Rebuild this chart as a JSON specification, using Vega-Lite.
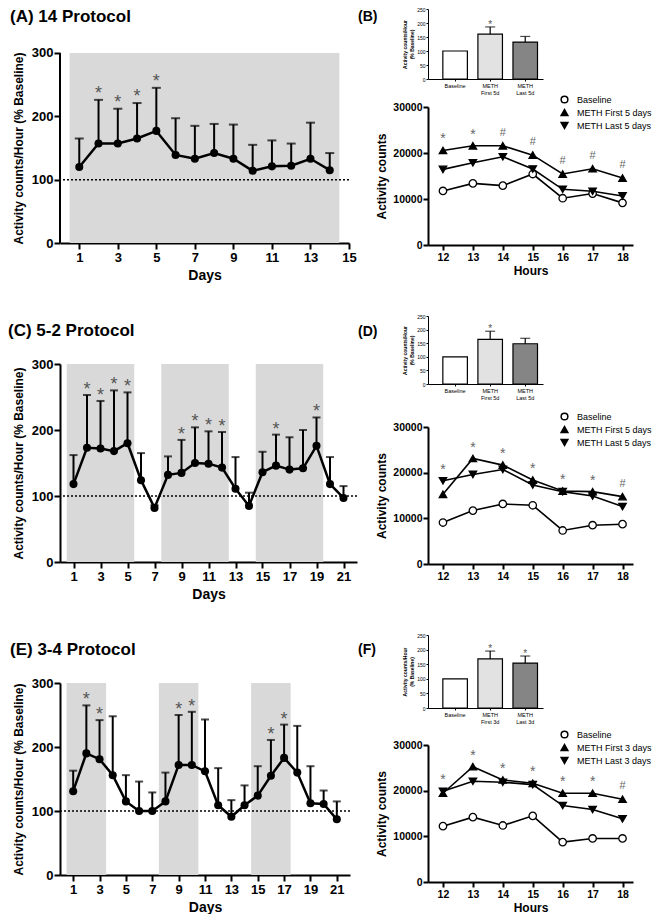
{
  "background": "white",
  "padding": {"left": 8, "top": 7, "right": 0, "bottom": 0},
  "config": {
    "font": "Liberation Sans",
    "view": {"stroke": null},
    "axis": {"domainColor": "black", "domainWidth": 2, "tickColor": "black", "tickWidth": 2, "tickSize": 6, "labelColor": "black", "titleColor": "black", "labelFontWeight": "bold", "titleFontWeight": "bold", "grid": false, "labelFont": "Liberation Sans", "titleFont": "Liberation Sans", "labelFlush": false, "labelOverlap": false},
    "title": {"color": "black", "font": "Liberation Sans", "fontWeight": "bold", "anchor": "start", "frame": "group", "baseline": "alphabetic"},
    "legend": {"labelFont": "Liberation Sans", "labelColor": "black"}
  },
  "datasets": {
    "A": [
      {"day": 1, "mean": 120, "upper": 165, "sig": 0},
      {"day": 2, "mean": 157, "upper": 226, "sig": 1},
      {"day": 3, "mean": 157, "upper": 212, "sig": 1},
      {"day": 4, "mean": 165, "upper": 221, "sig": 1},
      {"day": 5, "mean": 177, "upper": 245, "sig": 1},
      {"day": 6, "mean": 139, "upper": 197, "sig": 0},
      {"day": 7, "mean": 133, "upper": 185, "sig": 0},
      {"day": 8, "mean": 142, "upper": 188, "sig": 0},
      {"day": 9, "mean": 133, "upper": 187, "sig": 0},
      {"day": 10, "mean": 114, "upper": 155, "sig": 0},
      {"day": 11, "mean": 121, "upper": 162, "sig": 0},
      {"day": 12, "mean": 122, "upper": 157, "sig": 0},
      {"day": 13, "mean": 133, "upper": 190, "sig": 0},
      {"day": 14, "mean": 115, "upper": 142, "sig": 0}
    ],
    "C": [
      {"day": 1, "mean": 118, "upper": 162, "sig": 0},
      {"day": 2, "mean": 173, "upper": 253, "sig": 1},
      {"day": 3, "mean": 172, "upper": 244, "sig": 1},
      {"day": 4, "mean": 168, "upper": 260, "sig": 1},
      {"day": 5, "mean": 180, "upper": 257, "sig": 1},
      {"day": 6, "mean": 124, "upper": 165, "sig": 0},
      {"day": 7, "mean": 82, "upper": 86, "sig": 0},
      {"day": 8, "mean": 132, "upper": 160, "sig": 0},
      {"day": 9, "mean": 135, "upper": 185, "sig": 1},
      {"day": 10, "mean": 150, "upper": 204, "sig": 1},
      {"day": 11, "mean": 149, "upper": 198, "sig": 1},
      {"day": 12, "mean": 143, "upper": 197, "sig": 1},
      {"day": 13, "mean": 111, "upper": 159, "sig": 0},
      {"day": 14, "mean": 85, "upper": 105, "sig": 0},
      {"day": 15, "mean": 136, "upper": 167, "sig": 0},
      {"day": 16, "mean": 146, "upper": 193, "sig": 1},
      {"day": 17, "mean": 140, "upper": 189, "sig": 0},
      {"day": 18, "mean": 142, "upper": 200, "sig": 0},
      {"day": 19, "mean": 176, "upper": 219, "sig": 1},
      {"day": 20, "mean": 118, "upper": 159, "sig": 0},
      {"day": 21, "mean": 97, "upper": 115, "sig": 0}
    ],
    "E": [
      {"day": 1, "mean": 131, "upper": 163, "sig": 0},
      {"day": 2, "mean": 190, "upper": 265, "sig": 1},
      {"day": 3, "mean": 181, "upper": 242, "sig": 1},
      {"day": 4, "mean": 156, "upper": 248, "sig": 0},
      {"day": 5, "mean": 115, "upper": 156, "sig": 0},
      {"day": 6, "mean": 100, "upper": 146, "sig": 0},
      {"day": 7, "mean": 100, "upper": 129, "sig": 0},
      {"day": 8, "mean": 115, "upper": 160, "sig": 0},
      {"day": 9, "mean": 172, "upper": 250, "sig": 1},
      {"day": 10, "mean": 172, "upper": 255, "sig": 1},
      {"day": 11, "mean": 162, "upper": 243, "sig": 0},
      {"day": 12, "mean": 109, "upper": 167, "sig": 0},
      {"day": 13, "mean": 91, "upper": 117, "sig": 0},
      {"day": 14, "mean": 109, "upper": 140, "sig": 0},
      {"day": 15, "mean": 124, "upper": 170, "sig": 0},
      {"day": 16, "mean": 155, "upper": 211, "sig": 1},
      {"day": 17, "mean": 183, "upper": 235, "sig": 1},
      {"day": 18, "mean": 160, "upper": 233, "sig": 0},
      {"day": 19, "mean": 112, "upper": 170, "sig": 0},
      {"day": 20, "mean": 111, "upper": 132, "sig": 0},
      {"day": 21, "mean": 87, "upper": 115, "sig": 0}
    ],
    "shadeA": [{"s": 0.5, "e": 14.5}],
    "shadeC": [{"s": 0.5, "e": 5.5}, {"s": 7.5, "e": 12.5}, {"s": 14.5, "e": 19.5}],
    "shadeE": [{"s": 0.5, "e": 3.5}, {"s": 7.5, "e": 10.5}, {"s": 14.5, "e": 17.5}],
    "barB": [
      {"cat": "Baseline", "value": 100, "upper": null, "sig": 0},
      {"cat": "METH|First 5d", "value": 160, "upper": 186, "sig": 1},
      {"cat": "METH|Last 5d", "value": 132, "upper": 152, "sig": 0}
    ],
    "barD": [
      {"cat": "Baseline", "value": 100, "upper": null, "sig": 0},
      {"cat": "METH|First 5d", "value": 164, "upper": 194, "sig": 1},
      {"cat": "METH|Last 5d", "value": 148, "upper": 168, "sig": 0}
    ],
    "barF": [
      {"cat": "Baseline", "value": 100, "upper": null, "sig": 0},
      {"cat": "METH|First 3d", "value": 168, "upper": 195, "sig": 1},
      {"cat": "METH|Last 3d", "value": 154, "upper": 178, "sig": 1}
    ],
    "lineB": [
      {"hour": 12, "series": "Baseline", "value": 11750},
      {"hour": 13, "series": "Baseline", "value": 13400},
      {"hour": 14, "series": "Baseline", "value": 12900},
      {"hour": 15, "series": "Baseline", "value": 15430},
      {"hour": 16, "series": "Baseline", "value": 10170},
      {"hour": 17, "series": "Baseline", "value": 11180},
      {"hour": 18, "series": "Baseline", "value": 9160},
      {"hour": 12, "series": "METH First 5 days", "value": 20550},
      {"hour": 13, "series": "METH First 5 days", "value": 21560},
      {"hour": 14, "series": "METH First 5 days", "value": 21560},
      {"hour": 15, "series": "METH First 5 days", "value": 19540},
      {"hour": 16, "series": "METH First 5 days", "value": 15430},
      {"hour": 17, "series": "METH First 5 days", "value": 16580},
      {"hour": 18, "series": "METH First 5 days", "value": 14560},
      {"hour": 12, "series": "METH Last 5 days", "value": 16440},
      {"hour": 13, "series": "METH Last 5 days", "value": 17880},
      {"hour": 14, "series": "METH Last 5 days", "value": 19180},
      {"hour": 15, "series": "METH Last 5 days", "value": 16510},
      {"hour": 16, "series": "METH Last 5 days", "value": 12110},
      {"hour": 17, "series": "METH Last 5 days", "value": 11680},
      {"hour": 18, "series": "METH Last 5 days", "value": 10670}
    ],
    "lineD": [
      {"hour": 12, "series": "Baseline", "value": 9080},
      {"hour": 13, "series": "Baseline", "value": 11700},
      {"hour": 14, "series": "Baseline", "value": 13150},
      {"hour": 15, "series": "Baseline", "value": 12860},
      {"hour": 16, "series": "Baseline", "value": 7340},
      {"hour": 17, "series": "Baseline", "value": 8500},
      {"hour": 18, "series": "Baseline", "value": 8720},
      {"hour": 12, "series": "METH First 5 days", "value": 15250},
      {"hour": 13, "series": "METH First 5 days", "value": 23100},
      {"hour": 14, "series": "METH First 5 days", "value": 21650},
      {"hour": 15, "series": "METH First 5 days", "value": 18380},
      {"hour": 16, "series": "METH First 5 days", "value": 15980},
      {"hour": 17, "series": "METH First 5 days", "value": 15840},
      {"hour": 18, "series": "METH First 5 days", "value": 14750},
      {"hour": 12, "series": "METH Last 5 days", "value": 18230},
      {"hour": 13, "series": "METH Last 5 days", "value": 19610},
      {"hour": 14, "series": "METH Last 5 days", "value": 20700},
      {"hour": 15, "series": "METH Last 5 days", "value": 17290},
      {"hour": 16, "series": "METH Last 5 days", "value": 15840},
      {"hour": 17, "series": "METH Last 5 days", "value": 14890},
      {"hour": 18, "series": "METH Last 5 days", "value": 12570}
    ],
    "lineF": [
      {"hour": 12, "series": "Baseline", "value": 12230},
      {"hour": 13, "series": "Baseline", "value": 14200},
      {"hour": 14, "series": "Baseline", "value": 12380},
      {"hour": 15, "series": "Baseline", "value": 14490},
      {"hour": 16, "series": "Baseline", "value": 8740},
      {"hour": 17, "series": "Baseline", "value": 9540},
      {"hour": 18, "series": "Baseline", "value": 9540},
      {"hour": 12, "series": "METH First 3 days", "value": 19440},
      {"hour": 13, "series": "METH First 3 days", "value": 25260},
      {"hour": 14, "series": "METH First 3 days", "value": 22350},
      {"hour": 15, "series": "METH First 3 days", "value": 21620},
      {"hour": 16, "series": "METH First 3 days", "value": 19440},
      {"hour": 17, "series": "METH First 3 days", "value": 19440},
      {"hour": 18, "series": "METH First 3 days", "value": 18130},
      {"hour": 12, "series": "METH Last 3 days", "value": 19870},
      {"hour": 13, "series": "METH Last 3 days", "value": 22060},
      {"hour": 14, "series": "METH Last 3 days", "value": 21840},
      {"hour": 15, "series": "METH Last 3 days", "value": 21330},
      {"hour": 16, "series": "METH Last 3 days", "value": 16740},
      {"hour": 17, "series": "METH Last 3 days", "value": 15870},
      {"hour": 18, "series": "METH Last 3 days", "value": 13830}
    ],
    "annB": [
      {"hour": 12, "sym": "*"}, {"hour": 13, "sym": "*"}, {"hour": 14, "sym": "#"}, {"hour": 15, "sym": "#"},
      {"hour": 16, "sym": "#"}, {"hour": 17, "sym": "#"}, {"hour": 18, "sym": "#"}
    ],
    "annD": [
      {"hour": 12, "sym": "*"}, {"hour": 13, "sym": "*"}, {"hour": 14, "sym": "*"}, {"hour": 15, "sym": "*"},
      {"hour": 16, "sym": "*"}, {"hour": 17, "sym": "*"}, {"hour": 18, "sym": "#"}
    ],
    "annF": [
      {"hour": 12, "sym": "*"}, {"hour": 13, "sym": "*"}, {"hour": 14, "sym": "*"}, {"hour": 15, "sym": "*"},
      {"hour": 16, "sym": "*"}, {"hour": 17, "sym": "*"}, {"hour": 18, "sym": "#"}
    ]
  },
  "spacing": 0,
  "resolve": {"scale": {"fill": "independent", "shape": "independent"}, "legend": {"fill": "independent", "shape": "independent"}},
  "hconcat": [
    {
      "spacing": 40,
      "resolve": {"scale": {"fill": "independent", "shape": "independent"}, "legend": {"fill": "independent", "shape": "independent"}},
      "vconcat": [
        {
          "width": 289, "height": 234,
          "title": {"text": "(A) 14 Protocol", "fontSize": 17, "offset": 0, "dx": -50, "dy": 17},
          "layer": [
            {"data": {"name": "shadeA"}, "mark": {"type": "rect", "color": "#d9d9d9"},
             "encoding": {
               "x": {"field": "s", "type": "quantitative", "scale": {"domain": [0, 15], "nice": false, "zero": false}, "axis": {"title": "Days", "values": [1, 3, 5, 7, 9, 11, 13, 15], "tickCount": 50, "format": "d", "labelFontSize": 13, "titleFontSize": 14, "labelPadding": 2, "titlePadding": 4}},
               "x2": {"field": "e"},
               "y": {"datum": 0, "type": "quantitative", "scale": {"domain": [0, 369.47], "nice": false}, "axis": {"title": "Activity counts/Hour (% Baseline)", "domain": false, "titleY": 139, "values": [0, 100, 200, 300], "tickCount": 50, "format": "d", "labelFontSize": 13, "titleFontSize": 12, "labelPadding": 1, "titlePadding": 6}},
               "y2": {"datum": 300}}},
            {"data": {"values": [{}]}, "mark": {"type": "rule", "color": "black", "strokeWidth": 2}, "encoding": {"x": {"datum": 0, "type": "quantitative"}, "y": {"datum": 0, "type": "quantitative"}, "y2": {"datum": 300}}},
            {"data": {"values": [{}]}, "mark": {"type": "rule", "color": "black", "strokeWidth": 1.5, "strokeDash": [2, 2]}, "encoding": {"y": {"datum": 100, "type": "quantitative"}}},
            {"data": {"name": "A"}, "mark": {"type": "rule", "color": "black", "strokeWidth": 2}, "encoding": {"x": {"field": "day", "type": "quantitative"}, "y": {"field": "mean", "type": "quantitative"}, "y2": {"field": "upper"}}},
            {"data": {"name": "A"}, "mark": {"type": "tick", "orient": "horizontal", "size": 9, "thickness": 2, "color": "black"}, "encoding": {"x": {"field": "day", "type": "quantitative"}, "y": {"field": "upper", "type": "quantitative"}}},
            {"data": {"name": "A"}, "mark": {"type": "line", "color": "black", "strokeWidth": 2.5}, "encoding": {"x": {"field": "day", "type": "quantitative"}, "y": {"field": "mean", "type": "quantitative"}}},
            {"data": {"name": "A"}, "mark": {"type": "point", "filled": true, "color": "black", "size": 65, "opacity": 1}, "encoding": {"x": {"field": "day", "type": "quantitative"}, "y": {"field": "mean", "type": "quantitative"}}},
            {"data": {"name": "A"}, "transform": [{"filter": "datum.sig == 1"}], "mark": {"type": "text", "text": "*", "fontSize": 18, "color": "#555", "baseline": "alphabetic", "dy": -1}, "encoding": {"x": {"field": "day", "type": "quantitative"}, "y": {"field": "upper", "type": "quantitative"}}}
          ]
        },
        {
          "width": 297, "height": 198,
          "title": {"text": "(C) 5-2 Protocol", "fontSize": 17, "offset": 18, "dx": -52},
          "layer": [
            {"data": {"name": "shadeC"}, "mark": {"type": "rect", "color": "#d9d9d9"},
             "encoding": {
               "x": {"field": "s", "type": "quantitative", "scale": {"domain": [0, 22], "nice": false, "zero": false}, "axis": {"title": "Days", "values": [1, 3, 5, 7, 9, 11, 13, 15, 17, 19, 21], "tickCount": 50, "format": "d", "labelFontSize": 13, "titleFontSize": 14, "labelPadding": 2, "titlePadding": 4}},
               "x2": {"field": "e"},
               "y": {"datum": 0, "type": "quantitative", "scale": {"domain": [0, 300], "nice": false}, "axis": {"title": "Activity counts/Hour (% Baseline)", "values": [0, 100, 200, 300], "tickCount": 50, "format": "d", "labelFontSize": 13, "titleFontSize": 12, "labelPadding": 1, "titlePadding": 6}},
               "y2": {"datum": 300}}},
            {"data": {"values": [{}]}, "mark": {"type": "rule", "color": "black", "strokeWidth": 1.5, "strokeDash": [2, 2]}, "encoding": {"y": {"datum": 100, "type": "quantitative"}}},
            {"data": {"name": "C"}, "mark": {"type": "rule", "color": "black", "strokeWidth": 2}, "encoding": {"x": {"field": "day", "type": "quantitative"}, "y": {"field": "mean", "type": "quantitative"}, "y2": {"field": "upper"}}},
            {"data": {"name": "C"}, "mark": {"type": "tick", "orient": "horizontal", "size": 8, "thickness": 2, "color": "black"}, "encoding": {"x": {"field": "day", "type": "quantitative"}, "y": {"field": "upper", "type": "quantitative"}}},
            {"data": {"name": "C"}, "mark": {"type": "line", "color": "black", "strokeWidth": 2.5}, "encoding": {"x": {"field": "day", "type": "quantitative"}, "y": {"field": "mean", "type": "quantitative"}}},
            {"data": {"name": "C"}, "mark": {"type": "point", "filled": true, "color": "black", "size": 65, "opacity": 1}, "encoding": {"x": {"field": "day", "type": "quantitative"}, "y": {"field": "mean", "type": "quantitative"}}},
            {"data": {"name": "C"}, "transform": [{"filter": "datum.sig == 1"}], "mark": {"type": "text", "text": "*", "fontSize": 18, "color": "#555", "baseline": "alphabetic", "dy": 0}, "encoding": {"x": {"field": "day", "type": "quantitative"}, "y": {"field": "upper", "type": "quantitative"}}}
          ]
        },
        {
          "width": 290, "height": 192,
          "title": {"text": "(E) 3-4 Protocol", "fontSize": 17, "offset": 18, "dx": -50},
          "layer": [
            {"data": {"name": "shadeE"}, "mark": {"type": "rect", "color": "#d9d9d9"},
             "encoding": {
               "x": {"field": "s", "type": "quantitative", "scale": {"domain": [0, 22], "nice": false, "zero": false}, "axis": {"title": "Days", "values": [1, 3, 5, 7, 9, 11, 13, 15, 17, 19, 21], "tickCount": 50, "format": "d", "labelFontSize": 13, "titleFontSize": 14, "labelPadding": 2, "titlePadding": 4}},
               "x2": {"field": "e"},
               "y": {"datum": 0, "type": "quantitative", "scale": {"domain": [0, 300], "nice": false}, "axis": {"title": "Activity counts/Hour (% Baseline)", "values": [0, 100, 200, 300], "tickCount": 50, "format": "d", "labelFontSize": 13, "titleFontSize": 12, "labelPadding": 1, "titlePadding": 6}},
               "y2": {"datum": 300}}},
            {"data": {"values": [{}]}, "mark": {"type": "rule", "color": "black", "strokeWidth": 1.5, "strokeDash": [2, 2]}, "encoding": {"y": {"datum": 100, "type": "quantitative"}}},
            {"data": {"name": "E"}, "mark": {"type": "rule", "color": "black", "strokeWidth": 2}, "encoding": {"x": {"field": "day", "type": "quantitative"}, "y": {"field": "mean", "type": "quantitative"}, "y2": {"field": "upper"}}},
            {"data": {"name": "E"}, "mark": {"type": "tick", "orient": "horizontal", "size": 8, "thickness": 2, "color": "black"}, "encoding": {"x": {"field": "day", "type": "quantitative"}, "y": {"field": "upper", "type": "quantitative"}}},
            {"data": {"name": "E"}, "mark": {"type": "line", "color": "black", "strokeWidth": 2.5}, "encoding": {"x": {"field": "day", "type": "quantitative"}, "y": {"field": "mean", "type": "quantitative"}}},
            {"data": {"name": "E"}, "mark": {"type": "point", "filled": true, "color": "black", "size": 65, "opacity": 1}, "encoding": {"x": {"field": "day", "type": "quantitative"}, "y": {"field": "mean", "type": "quantitative"}}},
            {"data": {"name": "E"}, "transform": [{"filter": "datum.sig == 1"}], "mark": {"type": "text", "text": "*", "fontSize": 18, "color": "#555", "baseline": "alphabetic", "dy": 0}, "encoding": {"x": {"field": "day", "type": "quantitative"}, "y": {"field": "upper", "type": "quantitative"}}}
          ]
        }
      ]
    },
    {
      "spacing": 37,
      "resolve": {"scale": {"fill": "independent", "shape": "independent"}, "legend": {"fill": "independent", "shape": "independent"}},
      "vconcat": [
        {
          "spacing": 28, "bounds": "flush",
          "resolve": {"scale": {"fill": "independent", "shape": "independent"}, "legend": {"fill": "independent", "shape": "independent"}},
          "vconcat": [
            {
              "width": 115, "height": 70,
              "title": {"text": "(B)", "fontSize": 14, "offset": 0, "dx": -70, "dy": 17},
              "data": {"name": "barB"},
              "layer": [
                {"mark": {"type": "bar", "stroke": "black", "strokeWidth": 1.2},
                 "encoding": {
                   "x": {"field": "cat", "type": "nominal", "sort": null, "scale": {"paddingInner": 0.3, "paddingOuter": 0.29, "align": 0.73}, "axis": {"title": null, "labelExpr": "split(datum.value, '|')", "labelFontSize": 5.5, "labelFontWeight": "normal", "labelAngle": 0, "domainWidth": 1, "tickWidth": 1, "tickSize": 2, "labelPadding": 2}},
                   "y": {"field": "value", "type": "quantitative", "scale": {"domain": [0, 250], "nice": false}, "axis": {"title": ["Activity counts/Hour", "(% Baseline)"], "titleFontSize": 5, "labelFontSize": 5, "labelFontWeight": "normal", "values": [0, 50, 100, 150, 200, 250], "tickCount": 50, "format": "d", "domainWidth": 1, "tickWidth": 1, "tickSize": 2, "labelPadding": 1, "titlePadding": 2}},
                   "fill": {"field": "cat", "type": "nominal", "sort": null, "scale": {"range": ["white", "#e2e2e2", "#858585"]}, "legend": null}}},
                {"transform": [{"filter": "datum.upper != null"}], "mark": {"type": "rule", "strokeWidth": 1.2, "color": "black"}, "encoding": {"x": {"field": "cat", "type": "nominal", "sort": null}, "y": {"field": "value", "type": "quantitative"}, "y2": {"field": "upper"}}},
                {"transform": [{"filter": "datum.upper != null"}], "mark": {"type": "tick", "orient": "horizontal", "size": 10, "thickness": 1.2, "color": "black"}, "encoding": {"x": {"field": "cat", "type": "nominal", "sort": null}, "y": {"field": "upper", "type": "quantitative"}}},
                {"transform": [{"filter": "datum.sig == 1"}], "mark": {"type": "text", "text": "*", "fontSize": 10, "color": "#555", "baseline": "alphabetic", "dy": 1}, "encoding": {"x": {"field": "cat", "type": "nominal", "sort": null}, "y": {"field": "upper", "type": "quantitative"}}}
              ]
            },
            {
              "width": 205, "height": 138,
              "layer": [
                {"data": {"name": "lineB"}, "mark": {"type": "line", "color": "black", "strokeWidth": 1.6},
                 "encoding": {
                   "x": {"field": "hour", "type": "quantitative", "scale": {"domain": [11.5, 18.35], "nice": false, "zero": false}, "axis": {"title": "Hours", "values": [12, 13, 14, 15, 16, 17, 18], "tickCount": 50, "format": "d", "labelFontSize": 10.5, "titleFontSize": 12, "tickSize": 5, "labelPadding": 2, "titlePadding": 3}},
                   "y": {"field": "value", "type": "quantitative", "scale": {"domain": [0, 30000], "nice": false}, "axis": {"title": "Activity counts", "values": [0, 10000, 20000, 30000], "tickCount": 50, "format": "d", "labelFontSize": 10.5, "titleFontSize": 12, "tickSize": 5, "labelPadding": 1, "titlePadding": 4}},
                   "detail": {"field": "series", "type": "nominal"}}},
                {"data": {"name": "lineB"}, "mark": {"type": "point", "filled": true, "size": 55, "stroke": "black", "strokeWidth": 1.3, "opacity": 1},
                 "encoding": {
                   "x": {"field": "hour", "type": "quantitative"},
                   "y": {"field": "value", "type": "quantitative"},
                   "shape": {"field": "series", "type": "nominal", "scale": {"domain": ["Baseline", "METH First 5 days", "METH Last 5 days"], "range": ["circle", "triangle-up", "triangle-down"]}, "legend": {"orient": "none", "legendX": 132, "legendY": -12, "title": null, "labelFontSize": 9, "labelFontWeight": "normal", "symbolSize": 45, "rowPadding": 0, "padding": 0, "labelOffset": 8, "encode": {"symbols": {"update": {"stroke": {"value": "black"}, "strokeWidth": {"value": 1.3}}}}}},
                   "fill": {"field": "series", "type": "nominal", "scale": {"domain": ["Baseline", "METH First 5 days", "METH Last 5 days"], "range": ["white", "black", "black"]}, "legend": {"orient": "none", "legendX": 132, "legendY": -12, "title": null, "labelFontSize": 9, "labelFontWeight": "normal", "symbolSize": 45, "rowPadding": 0, "padding": 0, "labelOffset": 8, "encode": {"symbols": {"update": {"stroke": {"value": "black"}, "strokeWidth": {"value": 1.3}}}}}}}},
                {"data": {"name": "lineB"}, "transform": [{"aggregate": [{"op": "max", "field": "value", "as": "top"}], "groupby": ["hour"]}, {"lookup": "hour", "from": {"data": {"name": "annB"}, "key": "hour", "fields": ["sym"]}}, {"filter": "datum.sym == '*'"}],
                 "mark": {"type": "text", "text": "*", "fontSize": 14, "color": "#666", "baseline": "middle", "dy": -11},
                 "encoding": {"x": {"field": "hour", "type": "quantitative"}, "y": {"field": "top", "type": "quantitative"}}},
                {"data": {"name": "lineB"}, "transform": [{"aggregate": [{"op": "max", "field": "value", "as": "top"}], "groupby": ["hour"]}, {"lookup": "hour", "from": {"data": {"name": "annB"}, "key": "hour", "fields": ["sym"]}}, {"filter": "datum.sym == '#'"}],
                 "mark": {"type": "text", "text": "#", "fontSize": 11, "color": "#666", "baseline": "middle", "dy": -13},
                 "encoding": {"x": {"field": "hour", "type": "quantitative"}, "y": {"field": "top", "type": "quantitative"}}}
              ]
            }
          ]
        },
        {
          "spacing": 43, "bounds": "flush",
          "resolve": {"scale": {"fill": "independent", "shape": "independent"}, "legend": {"fill": "independent", "shape": "independent"}},
          "vconcat": [
            {
              "width": 115, "height": 68,
              "title": {"text": "(D)", "fontSize": 14, "offset": 0, "dx": -70, "dy": 25},
              "data": {"name": "barD"},
              "layer": [
                {"mark": {"type": "bar", "stroke": "black", "strokeWidth": 1.2},
                 "encoding": {
                   "x": {"field": "cat", "type": "nominal", "sort": null, "scale": {"paddingInner": 0.3, "paddingOuter": 0.29, "align": 0.73}, "axis": {"title": null, "labelExpr": "split(datum.value, '|')", "labelFontSize": 5.5, "labelFontWeight": "normal", "labelAngle": 0, "domainWidth": 1, "tickWidth": 1, "tickSize": 2, "labelPadding": 2}},
                   "y": {"field": "value", "type": "quantitative", "scale": {"domain": [0, 250], "nice": false}, "axis": {"title": ["Activity counts/Hour", "(% Baseline)"], "titleFontSize": 5, "labelFontSize": 5, "labelFontWeight": "normal", "values": [0, 50, 100, 150, 200, 250], "tickCount": 50, "format": "d", "domainWidth": 1, "tickWidth": 1, "tickSize": 2, "labelPadding": 1, "titlePadding": 2}},
                   "fill": {"field": "cat", "type": "nominal", "sort": null, "scale": {"range": ["white", "#e2e2e2", "#858585"]}, "legend": null}}},
                {"transform": [{"filter": "datum.upper != null"}], "mark": {"type": "rule", "strokeWidth": 1.2, "color": "black"}, "encoding": {"x": {"field": "cat", "type": "nominal", "sort": null}, "y": {"field": "value", "type": "quantitative"}, "y2": {"field": "upper"}}},
                {"transform": [{"filter": "datum.upper != null"}], "mark": {"type": "tick", "orient": "horizontal", "size": 10, "thickness": 1.2, "color": "black"}, "encoding": {"x": {"field": "cat", "type": "nominal", "sort": null}, "y": {"field": "upper", "type": "quantitative"}}},
                {"transform": [{"filter": "datum.sig == 1"}], "mark": {"type": "text", "text": "*", "fontSize": 10, "color": "#555", "baseline": "alphabetic", "dy": 1}, "encoding": {"x": {"field": "cat", "type": "nominal", "sort": null}, "y": {"field": "upper", "type": "quantitative"}}}
              ]
            },
            {
              "width": 205, "height": 137,
              "layer": [
                {"data": {"name": "lineD"}, "mark": {"type": "line", "color": "black", "strokeWidth": 1.6},
                 "encoding": {
                   "x": {"field": "hour", "type": "quantitative", "scale": {"domain": [11.5, 18.35], "nice": false, "zero": false}, "axis": {"title": "Hours", "titleOpacity": 0, "values": [12, 13, 14, 15, 16, 17, 18], "tickCount": 50, "format": "d", "labelFontSize": 10.5, "titleFontSize": 12, "tickSize": 5, "labelPadding": 2, "titlePadding": 3}},
                   "y": {"field": "value", "type": "quantitative", "scale": {"domain": [0, 30000], "nice": false}, "axis": {"title": "Activity counts", "values": [0, 10000, 20000, 30000], "tickCount": 50, "format": "d", "labelFontSize": 10.5, "titleFontSize": 12, "tickSize": 5, "labelPadding": 1, "titlePadding": 4}},
                   "detail": {"field": "series", "type": "nominal"}}},
                {"data": {"name": "lineD"}, "mark": {"type": "point", "filled": true, "size": 55, "stroke": "black", "strokeWidth": 1.3, "opacity": 1},
                 "encoding": {
                   "x": {"field": "hour", "type": "quantitative"},
                   "y": {"field": "value", "type": "quantitative"},
                   "shape": {"field": "series", "type": "nominal", "scale": {"domain": ["Baseline", "METH First 5 days", "METH Last 5 days"], "range": ["circle", "triangle-up", "triangle-down"]}, "legend": {"orient": "none", "legendX": 132, "legendY": -15, "title": null, "labelFontSize": 9, "labelFontWeight": "normal", "symbolSize": 45, "rowPadding": 0, "padding": 0, "labelOffset": 8, "encode": {"symbols": {"update": {"stroke": {"value": "black"}, "strokeWidth": {"value": 1.3}}}}}},
                   "fill": {"field": "series", "type": "nominal", "scale": {"domain": ["Baseline", "METH First 5 days", "METH Last 5 days"], "range": ["white", "black", "black"]}, "legend": {"orient": "none", "legendX": 132, "legendY": -15, "title": null, "labelFontSize": 9, "labelFontWeight": "normal", "symbolSize": 45, "rowPadding": 0, "padding": 0, "labelOffset": 8, "encode": {"symbols": {"update": {"stroke": {"value": "black"}, "strokeWidth": {"value": 1.3}}}}}}}},
                {"data": {"name": "lineD"}, "transform": [{"aggregate": [{"op": "max", "field": "value", "as": "top"}], "groupby": ["hour"]}, {"lookup": "hour", "from": {"data": {"name": "annD"}, "key": "hour", "fields": ["sym"]}}, {"filter": "datum.sym == '*'"}],
                 "mark": {"type": "text", "text": "*", "fontSize": 14, "color": "#666", "baseline": "middle", "dy": -11},
                 "encoding": {"x": {"field": "hour", "type": "quantitative"}, "y": {"field": "top", "type": "quantitative"}}},
                {"data": {"name": "lineD"}, "transform": [{"aggregate": [{"op": "max", "field": "value", "as": "top"}], "groupby": ["hour"]}, {"lookup": "hour", "from": {"data": {"name": "annD"}, "key": "hour", "fields": ["sym"]}}, {"filter": "datum.sym == '#'"}],
                 "mark": {"type": "text", "text": "#", "fontSize": 11, "color": "#666", "baseline": "middle", "dy": -13},
                 "encoding": {"x": {"field": "hour", "type": "quantitative"}, "y": {"field": "top", "type": "quantitative"}}}
              ]
            }
          ]
        },
        {
          "spacing": 37, "bounds": "flush",
          "resolve": {"scale": {"fill": "independent", "shape": "independent"}, "legend": {"fill": "independent", "shape": "independent"}},
          "vconcat": [
            {
              "width": 115, "height": 73,
              "title": {"text": "(F)", "fontSize": 14, "offset": 0, "dx": -70, "dy": 24},
              "data": {"name": "barF"},
              "layer": [
                {"mark": {"type": "bar", "stroke": "black", "strokeWidth": 1.2},
                 "encoding": {
                   "x": {"field": "cat", "type": "nominal", "sort": null, "scale": {"paddingInner": 0.3, "paddingOuter": 0.29, "align": 0.73}, "axis": {"title": null, "labelExpr": "split(datum.value, '|')", "labelFontSize": 5.5, "labelFontWeight": "normal", "labelAngle": 0, "domainWidth": 1, "tickWidth": 1, "tickSize": 2, "labelPadding": 2}},
                   "y": {"field": "value", "type": "quantitative", "scale": {"domain": [0, 250], "nice": false}, "axis": {"title": ["Activity counts/Hour", "(% Baseline)"], "titleFontSize": 5, "labelFontSize": 5, "labelFontWeight": "normal", "values": [0, 50, 100, 150, 200, 250], "tickCount": 50, "format": "d", "domainWidth": 1, "tickWidth": 1, "tickSize": 2, "labelPadding": 1, "titlePadding": 2}},
                   "fill": {"field": "cat", "type": "nominal", "sort": null, "scale": {"range": ["white", "#e2e2e2", "#858585"]}, "legend": null}}},
                {"transform": [{"filter": "datum.upper != null"}], "mark": {"type": "rule", "strokeWidth": 1.2, "color": "black"}, "encoding": {"x": {"field": "cat", "type": "nominal", "sort": null}, "y": {"field": "value", "type": "quantitative"}, "y2": {"field": "upper"}}},
                {"transform": [{"filter": "datum.upper != null"}], "mark": {"type": "tick", "orient": "horizontal", "size": 10, "thickness": 1.2, "color": "black"}, "encoding": {"x": {"field": "cat", "type": "nominal", "sort": null}, "y": {"field": "upper", "type": "quantitative"}}},
                {"transform": [{"filter": "datum.sig == 1"}], "mark": {"type": "text", "text": "*", "fontSize": 10, "color": "#555", "baseline": "alphabetic", "dy": 1}, "encoding": {"x": {"field": "cat", "type": "nominal", "sort": null}, "y": {"field": "upper", "type": "quantitative"}}}
              ]
            },
            {
              "width": 205, "height": 137,
              "layer": [
                {"data": {"name": "lineF"}, "mark": {"type": "line", "color": "black", "strokeWidth": 1.6},
                 "encoding": {
                   "x": {"field": "hour", "type": "quantitative", "scale": {"domain": [11.5, 18.35], "nice": false, "zero": false}, "axis": {"title": "Hours", "values": [12, 13, 14, 15, 16, 17, 18], "tickCount": 50, "format": "d", "labelFontSize": 10.5, "titleFontSize": 12, "tickSize": 5, "labelPadding": 2, "titlePadding": 3}},
                   "y": {"field": "value", "type": "quantitative", "scale": {"domain": [0, 30000], "nice": false}, "axis": {"title": "Activity counts", "values": [0, 10000, 20000, 30000], "tickCount": 50, "format": "d", "labelFontSize": 10.5, "titleFontSize": 12, "tickSize": 5, "labelPadding": 1, "titlePadding": 4}},
                   "detail": {"field": "series", "type": "nominal"}}},
                {"data": {"name": "lineF"}, "mark": {"type": "point", "filled": true, "size": 55, "stroke": "black", "strokeWidth": 1.3, "opacity": 1},
                 "encoding": {
                   "x": {"field": "hour", "type": "quantitative"},
                   "y": {"field": "value", "type": "quantitative"},
                   "shape": {"field": "series", "type": "nominal", "scale": {"domain": ["Baseline", "METH First 3 days", "METH Last 3 days"], "range": ["circle", "triangle-up", "triangle-down"]}, "legend": {"orient": "none", "legendX": 132, "legendY": -15, "title": null, "labelFontSize": 9, "labelFontWeight": "normal", "symbolSize": 45, "rowPadding": 0, "padding": 0, "labelOffset": 8, "encode": {"symbols": {"update": {"stroke": {"value": "black"}, "strokeWidth": {"value": 1.3}}}}}},
                   "fill": {"field": "series", "type": "nominal", "scale": {"domain": ["Baseline", "METH First 3 days", "METH Last 3 days"], "range": ["white", "black", "black"]}, "legend": {"orient": "none", "legendX": 132, "legendY": -15, "title": null, "labelFontSize": 9, "labelFontWeight": "normal", "symbolSize": 45, "rowPadding": 0, "padding": 0, "labelOffset": 8, "encode": {"symbols": {"update": {"stroke": {"value": "black"}, "strokeWidth": {"value": 1.3}}}}}}}},
                {"data": {"name": "lineF"}, "transform": [{"aggregate": [{"op": "max", "field": "value", "as": "top"}], "groupby": ["hour"]}, {"lookup": "hour", "from": {"data": {"name": "annF"}, "key": "hour", "fields": ["sym"]}}, {"filter": "datum.sym == '*'"}],
                 "mark": {"type": "text", "text": "*", "fontSize": 14, "color": "#666", "baseline": "middle", "dy": -11},
                 "encoding": {"x": {"field": "hour", "type": "quantitative"}, "y": {"field": "top", "type": "quantitative"}}},
                {"data": {"name": "lineF"}, "transform": [{"aggregate": [{"op": "max", "field": "value", "as": "top"}], "groupby": ["hour"]}, {"lookup": "hour", "from": {"data": {"name": "annF"}, "key": "hour", "fields": ["sym"]}}, {"filter": "datum.sym == '#'"}],
                 "mark": {"type": "text", "text": "#", "fontSize": 11, "color": "#666", "baseline": "middle", "dy": -13},
                 "encoding": {"x": {"field": "hour", "type": "quantitative"}, "y": {"field": "top", "type": "quantitative"}}}
              ]
            }
          ]
        }
      ]
    }
  ]
}
